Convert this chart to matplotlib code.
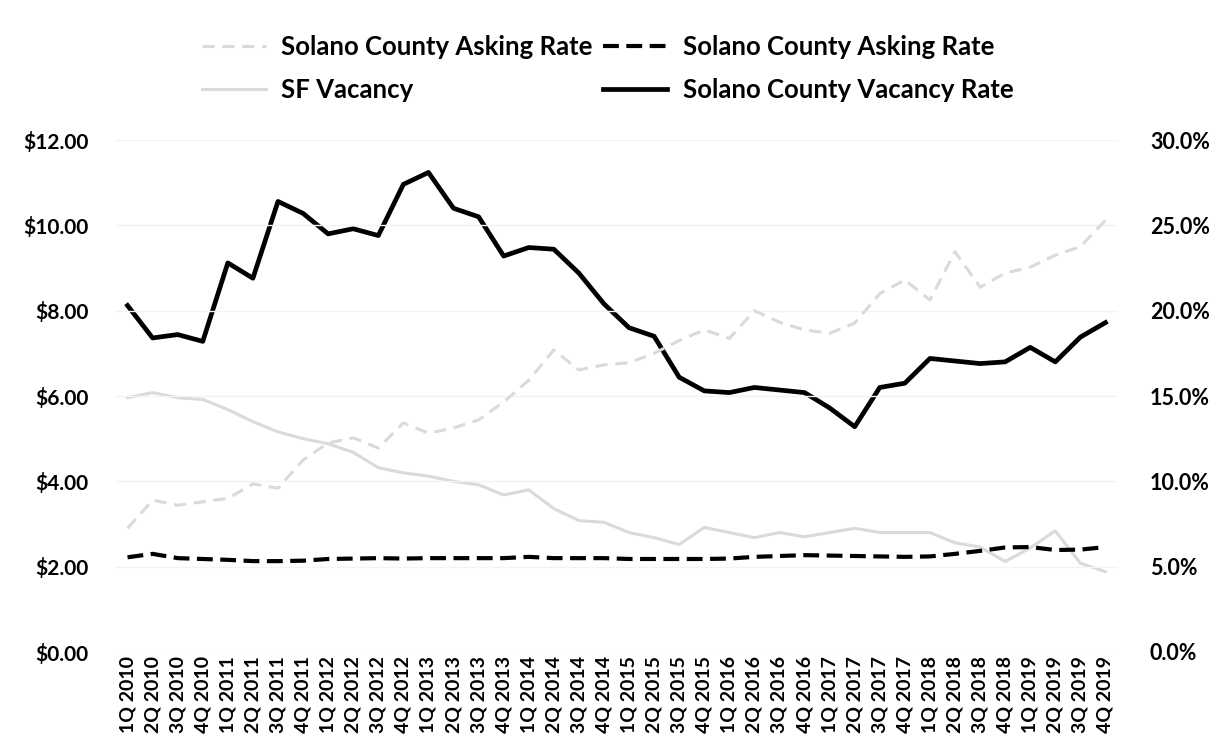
import matplotlib.pyplot as plt
from matplotlib.lines import Line2D

plt.rcParams['font.family'] = ['Lato', 'DejaVu Sans']
plt.rcParams['font.weight'] = 'bold'

# quarters 1Q 2010 .. 4Q 2019
quarters = [f"{q}Q {y}" for y in range(2010, 2020) for q in range(1, 5)]

# left axis ($)
sf_asking = [2.9, 3.56, 3.44, 3.52, 3.6, 3.94, 3.84, 4.5, 4.9, 5.02,
             4.78, 5.37, 5.13, 5.25, 5.44, 5.86, 6.37, 7.08, 6.61, 6.73,
             6.78, 7.0, 7.3, 7.55, 7.35, 8.0, 7.73, 7.55, 7.47, 7.71,
             8.4, 8.72, 8.25, 9.38, 8.55, 8.88, 9.02, 9.3, 9.5, 10.12]
solano_asking = [2.22, 2.3, 2.2, 2.18, 2.16, 2.13, 2.13, 2.14, 2.18, 2.19,
                 2.2, 2.19, 2.2, 2.2, 2.2, 2.2, 2.23, 2.2, 2.2, 2.2,
                 2.18, 2.18, 2.18, 2.18, 2.19, 2.23, 2.25, 2.27, 2.26, 2.25,
                 2.24, 2.23, 2.24, 2.3, 2.37, 2.45, 2.46, 2.39, 2.4, 2.46]

# right axis (%)
sf_vacancy = [14.9, 15.2, 14.9, 14.8, 14.2, 13.5, 12.9, 12.5, 12.2, 11.7,
              10.8, 10.5, 10.3, 10.0, 9.8, 9.2, 9.5, 8.4, 7.7, 7.6,
              7.0, 6.7, 6.3, 7.3, 7.0, 6.7, 7.0, 6.75, 7.0, 7.25,
              7.0, 7.0, 7.0, 6.4, 6.15, 5.3, 6.1, 7.1, 5.2, 4.7]
solano_vacancy = [20.3, 18.4, 18.6, 18.2, 22.8, 21.9, 26.4, 25.7, 24.5, 24.8,
                  24.4, 27.4, 28.1, 26.0, 25.5, 23.2, 23.7, 23.6, 22.2, 20.4,
                  19.0, 18.5, 16.1, 15.3, 15.2, 15.5, 15.35, 15.2, 14.3, 13.2,
                  15.5, 15.75, 17.2, 17.05, 16.9, 17.0, 17.85, 17.0, 18.45, 19.3]

light = '#dadada'
x = range(len(quarters))

fig = plt.figure(figsize=(12.3, 7.48), dpi=100)
ax = fig.add_axes([115 / 1230, 1 - 652 / 748, (1118 - 115) / 1230, (652 - 140) / 748])
ax2 = ax.twinx()

ax.plot(x, sf_asking, color=light, lw=2.2, linestyle=(0, (4, 2.5)), zorder=2)
ax2.plot(x, sf_vacancy, color=light, lw=2.2, zorder=2)
ax.plot(x, solano_asking, color='black', lw=3, linestyle=(0, (3.8, 1.8)), zorder=3)
ax2.plot(x, solano_vacancy, color='black', lw=3.4, zorder=3)
ax.set_zorder(ax2.get_zorder() + 1)
ax.patch.set_visible(False)

ax.set_xlim(-0.5, len(quarters) - 0.5)
ax.set_ylim(0, 12)
ax2.set_ylim(0, 30)
ax.set_yticks(range(0, 13, 2))
ax.set_yticklabels([f"${v:.2f}" for v in range(0, 13, 2)], fontsize=15, fontweight='bold')
ax2.set_yticks(range(0, 31, 5))
ax2.set_yticklabels([f"{v:.1f}%" for v in range(0, 31, 5)], fontsize=15.5, fontweight='bold')
ax.set_xticks(list(x))
ax.set_xticklabels(quarters, rotation=90, fontsize=14, fontweight='bold')

ax.grid(axis='y', color='#f3f3f3', lw=1)
for a in (ax, ax2):
    for s in a.spines.values():
        s.set_visible(False)
    a.tick_params(length=0)
ax.tick_params(axis='y', pad=19)
ax2.tick_params(axis='y', pad=23)
ax.tick_params(axis='x', pad=3)

handles = [
    Line2D([], [], color=light, lw=2.2, linestyle=(0, (4, 2.5))),
    Line2D([], [], color=light, lw=2.2),
    Line2D([], [], color='black', lw=3, linestyle=(0, (3.8, 1.8))),
    Line2D([], [], color='black', lw=3.4),
]
labels = ['Solano County Asking Rate', 'SF Vacancy',
          'Solano County Asking Rate', 'Solano County Vacancy Rate']
fig.legend(handles, labels, ncol=2, loc='upper center', bbox_to_anchor=(0.494, 1 - 22 / 748),
           frameon=False, prop={'size': 18.5, 'weight': 'bold'}, borderpad=0,
           handlelength=2.5, handletextpad=0.6, columnspacing=0.4, labelspacing=0.75)

fig.savefig('out.png', dpi=100)
